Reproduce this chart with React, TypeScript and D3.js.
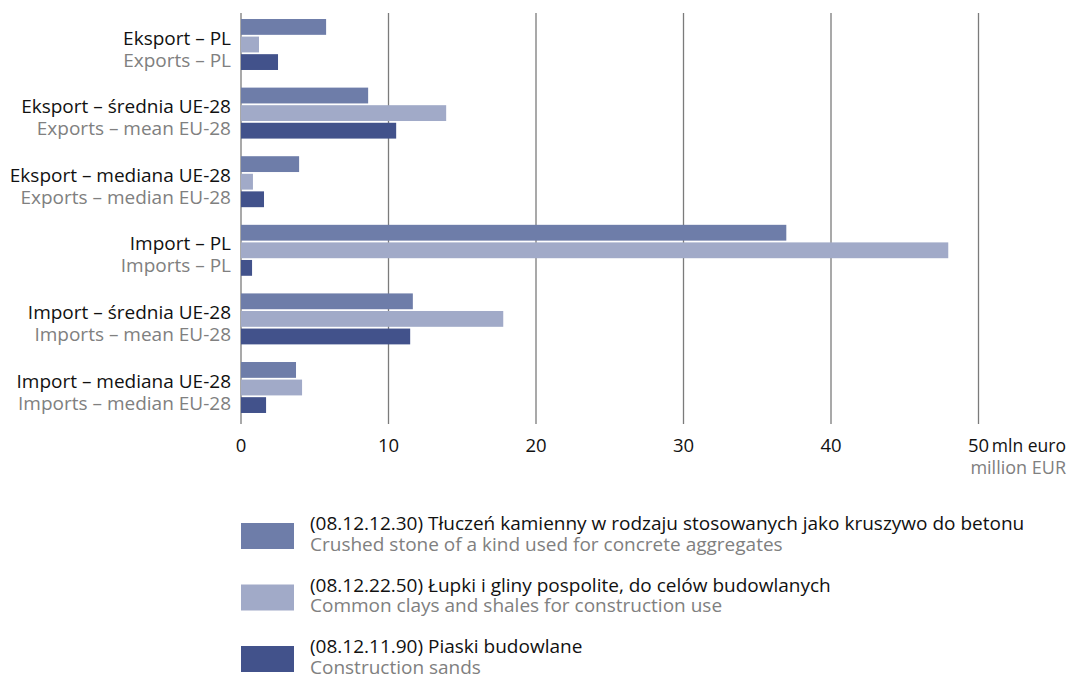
import * as React from 'react';
import * as d3 from 'd3';

const categoriesPl = [
	'Eksport – PL',
	'Eksport – średnia UE-28',
	'Eksport – mediana UE-28',
	'Import – PL',
	'Import – średnia UE-28',
	'Import – mediana UE-28',
];
const categoriesEn = [
	'Exports – PL',
	'Exports – mean EU-28',
	'Exports – median EU-28',
	'Imports – PL',
	'Imports – mean EU-28',
	'Imports – median EU-28',
];

const crushedStone = [5.77, 8.62, 3.94, 36.97, 11.65, 3.73];
const clays = [1.22, 13.91, 0.81, 47.95, 17.78, 4.14];
const sands = [2.51, 10.52, 1.56, 0.75, 11.47, 1.7];

const seriesPl = [
	'(08.12.12.30) Tłuczeń kamienny w rodzaju stosowanych jako kruszywo do betonu',
	'(08.12.22.50) Łupki i gliny pospolite, do celów budowlanych',
	'(08.12.11.90) Piaski budowlane',
];
const seriesEn = [
	'Crushed stone of a kind used for concrete aggregates',
	'Common clays and shales for construction use',
	'Construction sands',
];
const seriesColors = ['#6e7da9', '#a1aac8', '#42528b'];

const xTicks = [0, 10, 20, 30, 40, 50];

const FONT = "'Open Sans', sans-serif";
const FS = 19;

export default function App() {
	const width = 1071;
	const height = 679;

	const x = d3.scaleLinear().domain([0, 50]).range([241, 978.5]);
	const y = d3
		.scaleBand<number>()
		.domain(d3.range(categoriesPl.length))
		.range([10.2, 421.8])
		.paddingInner(0.257)
		.paddingOuter(0.1285);
	const inner = d3.scaleBand<number>().domain([0, 1, 2]).range([0, y.bandwidth()]).paddingInner(0.1);

	const series = [crushedStone, clays, sands];

	return (
		<svg
			width={width}
			height={height}
			style={{ position: 'absolute', left: 0, top: 0, background: '#fff' }}
			fontFamily={FONT}
		>
			{/* grid */}
			{xTicks.map(t => (
				<line key={t} x1={x(t)} x2={x(t)} y1={13} y2={424} stroke='#7b7b7b' strokeWidth={1.3} />
			))}

			{/* bars */}
			{series.map((vals, si) => (
				<g key={si} fill={seriesColors[si]}>
					{vals.map((v, i) => (
						<rect
							key={i}
							x={x(0)}
							y={(y(i) as number) + (inner(si) as number)}
							width={x(v) - x(0)}
							height={inner.bandwidth()}
						/>
					))}
				</g>
			))}

			{/* category labels */}
			{categoriesPl.map((c, i) => {
				const cy = (y(i) as number) + y.bandwidth() / 2;
				return (
					<g key={c} textAnchor='end' fontSize={FS}>
						<text x={231} y={cy} fill='#111'>
							{c}
						</text>
						<text x={231} y={cy + 22} fill='#808080'>
							{categoriesEn[i]}
						</text>
					</g>
				);
			})}

			{/* x ticks */}
			{xTicks.map(t => (
				<text key={t} x={x(t)} y={452} textAnchor='middle' fontSize={18.5} fill='#111'>
					{t}
				</text>
			))}
			<text x={1066} y={452} textAnchor='end' fontSize={17.5} fill='#111'>
				mln euro
			</text>
			<text x={1066} y={474} textAnchor='end' fontSize={18} fill='#808080'>
				million EUR
			</text>

			{/* legend */}
			{seriesPl.map((s, i) => {
				const top = 523 + i * 61.5;
				return (
					<g key={s}>
						<rect x={241} y={top} width={53} height={26} fill={seriesColors[i]} />
						<text x={310} y={top + 7} fontSize={FS} fill='#111'>
							{s}
						</text>
						<text x={310} y={top + 27.5} fontSize={FS} fill='#808080'>
							{seriesEn[i]}
						</text>
					</g>
				);
			})}
		</svg>
	);
}
